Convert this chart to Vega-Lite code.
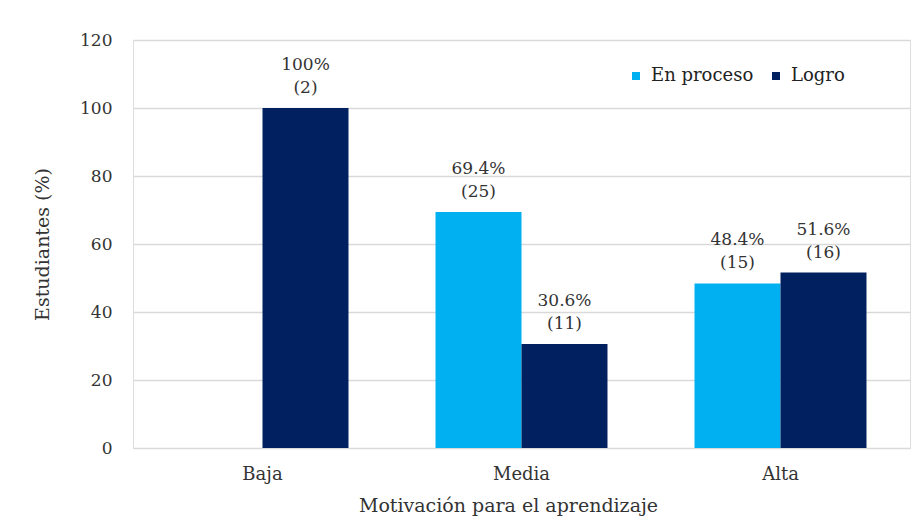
{
  "$schema": "https://vega.github.io/schema/vega-lite/v6.json",
  "width": 777,
  "height": 408,
  "autosize": "none",
  "padding": {"left": 133, "top": 40, "right": 13, "bottom": 72},
  "background": "white",
  "config": {"font": "DejaVu Serif"},
  "data": {
    "values": [
      {"nivel": "Baja", "estado": "Logro", "pct": 100, "label": "100%\n(2)"},
      {"nivel": "Media", "estado": "En proceso", "pct": 69.4, "label": "69.4%\n(25)"},
      {"nivel": "Media", "estado": "Logro", "pct": 30.6, "label": "30.6%\n(11)"},
      {"nivel": "Alta", "estado": "En proceso", "pct": 48.4, "label": "48.4%\n(15)"},
      {"nivel": "Alta", "estado": "Logro", "pct": 51.6, "label": "51.6%\n(16)"}
    ]
  },
  "encoding": {
    "x": {
      "field": "nivel", "type": "nominal", "sort": ["Baja", "Media", "Alta"],
      "scale": {"paddingInner": 0.336, "paddingOuter": 0.168},
      "axis": {
        "title": "Motivación para el aprendizaje", "labelAngle": 0, "domain": false, "ticks": false,
        "labelPadding": 17, "labelFontSize": 18, "labelColor": "#333333", "labelFont": "DejaVu Serif",
        "titleFont": "DejaVu Serif", "titleFontSize": 19, "titleFontWeight": "normal", "titleColor": "#333333", "titlePadding": 13,
        "titleX": 375
      }
    },
    "xOffset": {"field": "estado", "type": "nominal", "scale": {"domain": ["En proceso", "Logro"], "paddingInner": 0}},
    "y": {
      "field": "pct", "type": "quantitative",
      "scale": {"domain": [0, 120], "nice": false},
      "axis": {
        "title": "Estudiantes (%)", "values": [0, 20, 40, 60, 80, 100, 120], "domain": false, "ticks": false,
        "gridColor": "#d9d9d9", "gridWidth": 1.5, "labelPadding": 21, "labelFontSize": 17, "labelColor": "#333333",
        "labelFont": "DejaVu Serif", "titleFont": "DejaVu Serif", "titleFontSize": 19, "titleFontWeight": "normal",
        "titleColor": "#333333", "titlePadding": 27
      }
    }
  },
  "layer": [
    {
      "mark": {"type": "bar"},
      "encoding": {
        "color": {
          "field": "estado", "type": "nominal",
          "scale": {"domain": ["En proceso", "Logro"], "range": ["#00b0f0", "#002060"]},
          "legend": {
            "title": null, "orient": "none", "direction": "horizontal", "legendX": 494, "legendY": 27,
            "symbolType": "square", "symbolSize": 64, "symbolStrokeWidth": 0, "labelFont": "DejaVu Serif",
            "labelFontSize": 18, "labelColor": "#222222", "columnPadding": 13, "labelOffset": 6
          }
        }
      }
    },
    {
      "mark": {"type": "text", "baseline": "bottom", "dy": -34, "lineBreak": "\n", "font": "DejaVu Serif", "fontSize": 17, "color": "#333333", "lineHeight": 23},
      "encoding": {"text": {"field": "label"}}
    }
  ]
}
